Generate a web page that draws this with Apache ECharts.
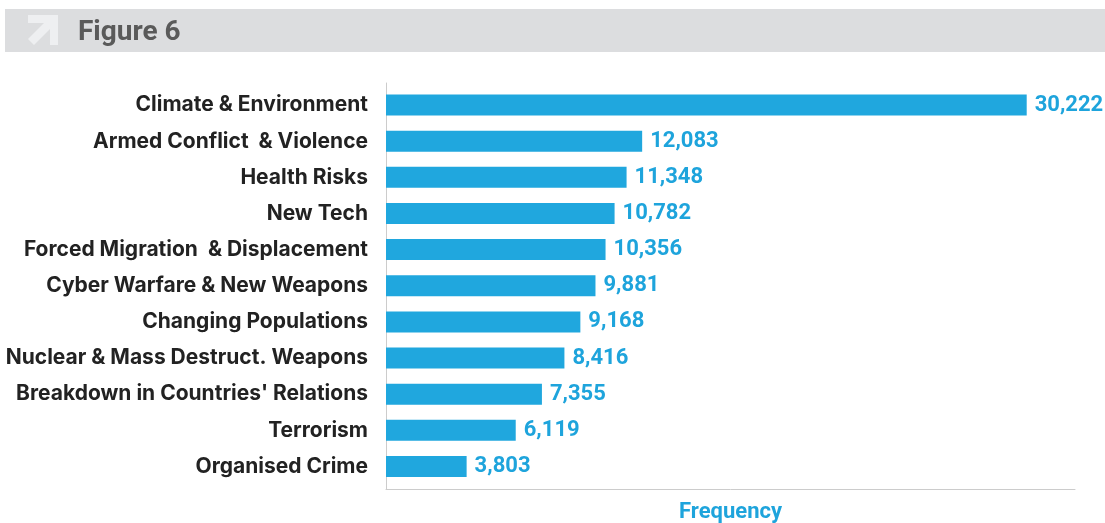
<!DOCTYPE html>
<html>
<head>
<meta charset="utf-8">
<script src="https://cdn.jsdelivr.net/npm/echarts@6/dist/echarts.min.js"></script>
<style>
html,body{margin:0;padding:0;background:#fff;}
#c{width:1105px;height:523px;}
</style>
</head>
<body>
<div id="c"></div>
<script>
const categories = [
  "Climate & Environment",
  "Armed Conflict  & Violence",
  "Health Risks",
  "New Tech",
  "Forced Migration  & Displacement",
  "Cyber Warfare & New Weapons",
  "Changing Populations",
  "Nuclear & Mass Destruct. Weapons",
  "Breakdown in Countries' Relations",
  "Terrorism",
  "Organised Crime"
];
const frequency = [30222, 12083, 11348, 10782, 10356, 9881, 9168, 8416, 7355, 6119, 3803];
const figureTitle = "Figure 6";
const axisName = "Frequency";

const chart = echarts.init(document.getElementById('c'), null, {renderer: 'canvas'});
const fmt = v => v.toLocaleString('en-US');
const FONT = 'Roboto';
const LABEL_FONT = 'Inter';

chart.setOption({
  animation: false,
  backgroundColor: '#ffffff',
  graphic: [
    { type: 'rect', shape: {x: 5, y: 9, width: 1100, height: 43}, style: {fill: '#dcdddf'}, silent: true },
    { type: 'polygon', shape: {points: [[28,15],[58,15],[58,45],[50,45],[50,29],[34,45],[28,39],[44,23],[28,23]]},
      style: {fill: '#eeeff1'}, silent: true },
    { type: 'text', left: 78, top: 19, style: {text: figureTitle, fill: '#5a5a5a', font: 'bold 28px ' + FONT} }
  ],
  grid: [
    { left: 386, right: 30, top: 87, bottom: 38.5, containLabel: false, outerBoundsMode: 'none' },
    { left: 386, right: 30, top: 83, bottom: 34, containLabel: false, outerBoundsMode: 'none' }
  ],
  xAxis: [
    { type: 'value', gridIndex: 0, min: 0, max: 32500,
      axisLine: {show: false}, axisTick: {show: false}, axisLabel: {show: false}, splitLine: {show: false} },
    { type: 'value', gridIndex: 1, min: 0, max: 1,
      name: axisName, nameLocation: 'middle', nameGap: 12,
      nameTextStyle: {color: '#1ea4dc', fontFamily: FONT, fontWeight: 'bold', fontSize: 22, verticalAlign: 'top'},
      axisLine: {show: true, lineStyle: {color: '#cccccc', width: 1}}, axisTick: {show: false}, axisLabel: {show: false}, splitLine: {show: false} }
  ],
  yAxis: [
    { type: 'category', gridIndex: 0, data: categories, inverse: true,
      axisLine: {show: false}, axisTick: {show: false}, splitLine: {show: false},
      axisLabel: {margin: 18, color: '#222222', fontFamily: LABEL_FONT, fontWeight: 'bold', fontSize: 21, padding: [0, 0, 4, 0]} },
    { type: 'value', gridIndex: 1, min: 0, max: 1,
      axisLine: {show: true, lineStyle: {color: '#cccccc', width: 1}}, axisTick: {show: false}, axisLabel: {show: false}, splitLine: {show: false} }
  ],
  series: [{
    type: 'bar',
    xAxisIndex: 0, yAxisIndex: 0,
    data: frequency,
    barWidth: 21,
    itemStyle: {color: '#20a7de'},
    label: {
      show: true, position: 'right', distance: 8,
      formatter: p => fmt(p.value),
      color: '#1ea4dc', fontFamily: FONT, fontWeight: 'bold', fontSize: 22
    }
  }]
});
</script>
</body>
</html>
